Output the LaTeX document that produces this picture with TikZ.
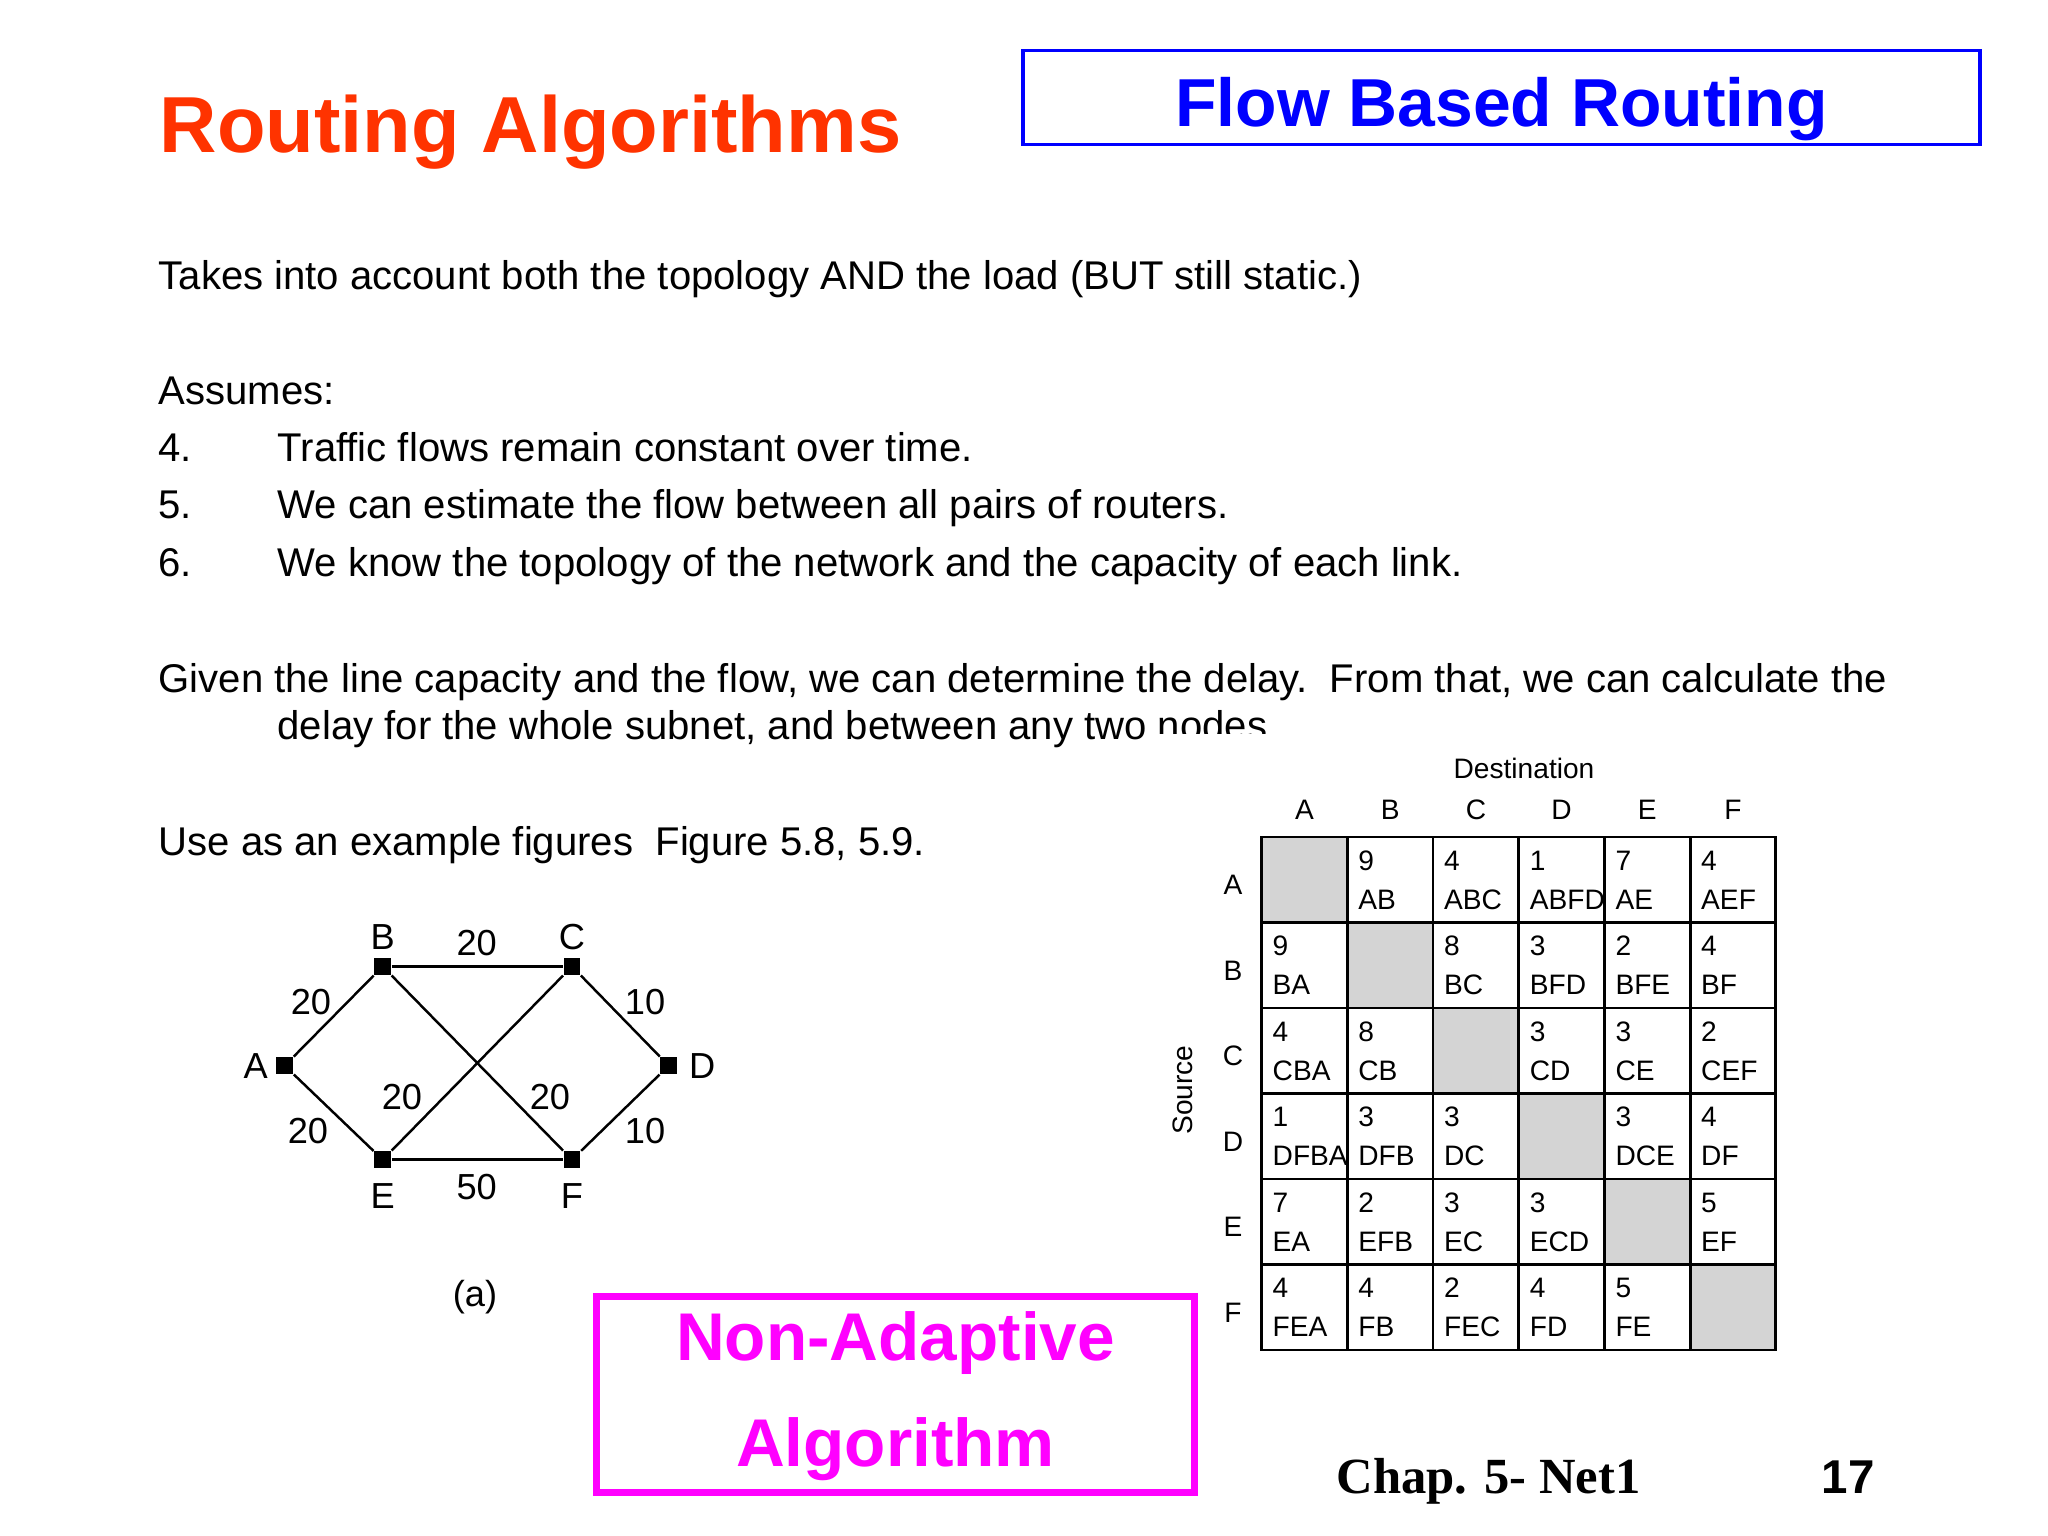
\documentclass[tikz,border=0pt]{standalone}
\usepackage{fontspec}
\setmainfont{Liberation Sans}
\newfontfamily\footfont{Liberation Serif}
\usetikzlibrary{positioning}
\definecolor{titlered}{RGB}{255,51,0}
\definecolor{headblue}{RGB}{0,0,255}
\definecolor{boxmagenta}{RGB}{255,0,255}
\definecolor{cellgray}{RGB}{212,212,212}

\begin{document}
\begin{tikzpicture}[x=0.01cm,y=-0.01cm,
  body/.style={anchor=base west,inner sep=0pt,font=\fontsize{11.4}{13}\selectfont},
  vertex/.style={fill=black,inner sep=0pt,minimum size=4.8pt},
  vname/.style={inner sep=0pt,font=\fontsize{10.3}{12}\selectfont},
  weight/.style={inner sep=0pt,font=\fontsize{10.3}{12}\selectfont},
  link/.style={line width=0.7pt},
  tab/.style={inner sep=0pt,font=\fontsize{8}{9}\selectfont},
  tabline/.style={line width=0.8pt,line cap=rect}]
  \useasboundingbox (0,0) rectangle (2048,1536);
  \node[anchor=base west,inner sep=0pt,text=titlered,font=\fontsize{22.6}{26}\selectfont\bfseries] (title) at (159,152) {Routing Algorithms};
  \node[draw=headblue,line width=1pt,minimum width=272pt,minimum height=26.7pt,inner sep=0pt] (flowbox) at (1501.5,97.5) {};
  \node[anchor=base,inner sep=0pt,text=headblue,font=\fontsize{19.3}{22}\selectfont\bfseries] (flow) at (1501.5,126) {Flow Based Routing};

  \node[body] (intro) at (158,289) {Takes into account both the topology AND the load (BUT still static.)};
  \node[body] (assumes) at (158,404) {Assumes:};
  \node[body] (n4) at (158,461) {4.};
  \node[body] (a4) at (277,461) {Traffic flows remain constant over time.};
  \node[body] (n5) at (158,518) {5.};
  \node[body] (a5) at (277,518) {We can estimate the flow between all pairs of routers.};
  \node[body] (n6) at (158,576) {6.};
  \node[body] (a6) at (277,576) {We know the topology of the network and the capacity of each link.};
  \node[body] (given) at (158,692) {Given the line capacity and the flow, we can determine the delay.\ \ From that, we can calculate the};
  \node[body] (given2) at (277,739) {delay for the whole subnet, and between any two nodes.};
  \node[body] (use) at (158,855) {Use as an example figures\ \ Figure 5.8, 5.9.};

  \node[vertex] (A) at (284.7,1065.7) {};
  \node[vertex] (B) at (382.7,966.4) {};
  \node[vertex] (C) at (572,966.4) {};
  \node[vertex] (D) at (668.7,1065.7) {};
  \node[vertex] (E) at (382.7,1159.7) {};
  \node[vertex] (F) at (572,1159.7) {};
  \node[vname,left=2pt of A] (lA) {A};
  \node[vname,above=2pt of B] (lB) {B};
  \node[vname,above=2pt of C] (lC) {C};
  \node[vname,right=3pt of D] (lD) {D};
  \node[vname,below=4pt of E] (lE) {E};
  \node[vname,below=4pt of F] (lF) {F};
  \draw[link] (A) -- (B);
  \draw[link] (A) -- (E);
  \draw[link,line width=1pt] (B) -- (C);
  \draw[link] (B) -- (F);
  \draw[link] (C) -- (E);
  \draw[link] (C) -- (D);
  \draw[link] (D) -- (F);
  \draw[link,line width=1pt] (E) -- (F);
  \node[weight] (wBC) at (476.7,943) {20};
  \node[weight] (wAB) at (311,1002) {20};
  \node[weight] (wCD) at (645,1002) {10};
  \node[weight] (wAE) at (308,1131) {20};
  \node[weight] (wDF) at (645,1131) {10};
  \node[weight] (wCE) at (402,1097) {20};
  \node[weight] (wBF) at (550,1097) {20};
  \node[weight] (wEF) at (476.7,1187) {50};
  \node[weight] (figa) at (475,1297) {(a)};

  \fill[white] (1152,734) rectangle (1800,1370);
  \node[tab] (dest) at (1524,768) {Destination};
  \node[tab,rotate=90] (src) at (1183,1090) {Source};
  \foreach \l [count=\i from 0] in {A,B,C,D,E,F} {
    \node[tab] (d\l) at ({1304.5+85.7*\i},810) {\l};
    \node[tab] (s\l) at (1233,{885+85.5*\i}) {\l};
    \fill[cellgray] ({1261.6+85.7*\i},{837+85.5*\i}) rectangle +(85.7,85.5);
  }
  \foreach \i in {0,...,6} {
    \draw[tabline] ({1261.6+85.7*\i},837) -- ({1261.6+85.7*\i},1350);
    \draw[tabline] (1261.6,{837+85.5*\i}) -- (1775.8,{837+85.5*\i});
  }
  \foreach \r/\c/\n/\p in {0/1/9/AB,0/2/4/ABC,0/3/1/ABFD,0/4/7/AE,0/5/4/AEF,
      1/0/9/BA,1/2/8/BC,1/3/3/BFD,1/4/2/BFE,1/5/4/BF,
      2/0/4/CBA,2/1/8/CB,2/3/3/CD,2/4/3/CE,2/5/2/CEF,
      3/0/1/DFBA,3/1/3/DFB,3/2/3/DC,3/4/3/DCE,3/5/4/DF,
      4/0/7/EA,4/1/2/EFB,4/2/3/EC,4/3/3/ECD,4/5/5/EF,
      5/0/4/FEA,5/1/4/FB,5/2/2/FEC,5/3/4/FD,5/4/5/FE} {
    \node[tab,anchor=west] (n\r\c) at ({1272+85.7*\c},{860.5+85.5*\r}) {\n};
    \node[tab,anchor=west] (p\r\c) at ({1272+85.7*\c},{899.5+85.5*\r}) {\p};
  }

  \node[draw=boxmagenta,line width=2pt,minimum width=169.8pt,minimum height=55.5pt,inner sep=0pt] (nabox) at (895.5,1394.5) {};
  \node[anchor=base,inner sep=0pt,text=boxmagenta,font=\fontsize{19.2}{22}\selectfont\bfseries] (na1) at (895.5,1360) {Non-Adaptive};
  \node[anchor=base,inner sep=0pt,text=boxmagenta,font=\fontsize{19.2}{22}\selectfont\bfseries] (na2) at (895.5,1466) {Algorithm};
  \node[anchor=base west,inner sep=0pt,font=\footfont\fontsize{14.4}{17}\selectfont\bfseries] (chap) at (1336,1493) {Chap. 5- Net1};
  \node[anchor=base west,inner sep=0pt,font=\fontsize{13.5}{16}\selectfont\bfseries] (page) at (1821,1493) {17};
\end{tikzpicture}
\end{document}
